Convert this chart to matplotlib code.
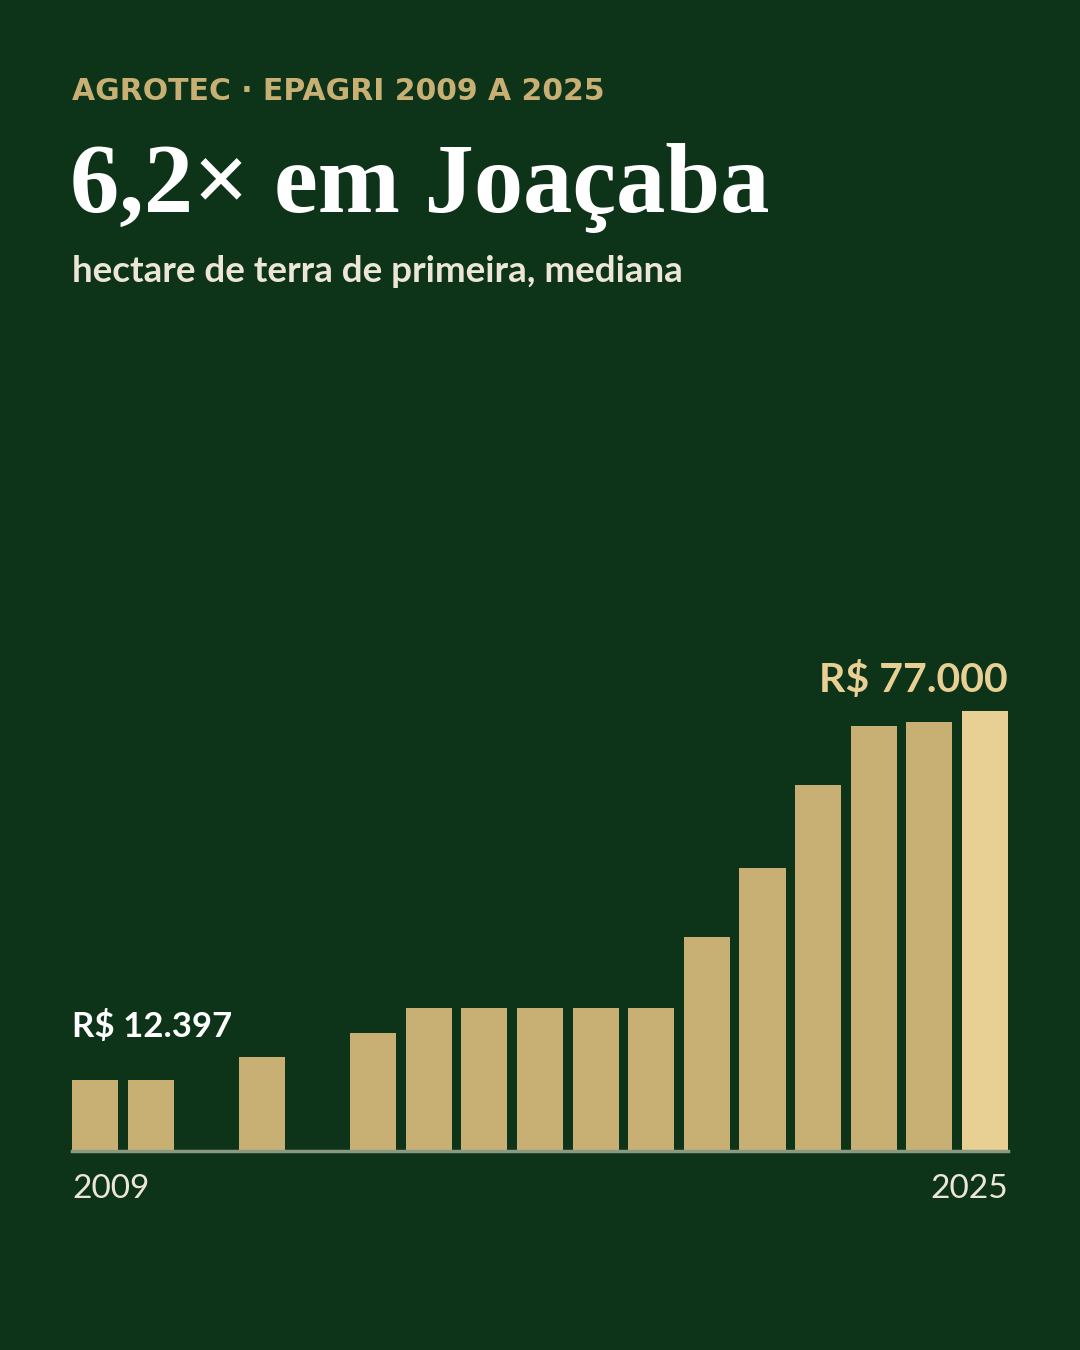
import matplotlib
matplotlib.use("Agg")
import matplotlib.pyplot as plt

# data (R$ per hectare, median)
years = [2009, 2010, 2012, 2014, 2015, 2016, 2017, 2018, 2019, 2020, 2021, 2022, 2023, 2024, 2025]
values = [12397, 12397, 16500, 20600, 25000, 25000, 25000, 25000, 25000, 37400, 49600, 64000, 74400, 75000, 77000]
first_label = "R$ 12.397"
last_label = "R$ 77.000"

BG = "#0d3319"
BAR = "#c8af74"
HIGHLIGHT = "#e8cf94"
CREAM = "#ece6d6"

W, H = 1080, 1350
fig = plt.figure(figsize=(W / 100, H / 100), dpi=100, facecolor=BG)


def fx(px):
    return px / W


def fy(py):
    return 1 - py / H


# header
fig.text(fx(72), fy(91), "AGROTEC · EPAGRI 2009 A 2025", color=BAR, fontsize=21.5,
         fontweight="bold", family="DejaVu Sans", va="center", ha="left")
fig.text(fx(70), fy(212), "6,2× em Joaçaba", color="white", fontsize=71,
         fontweight="bold", family="Liberation Serif", va="baseline", ha="left")
fig.text(fx(72), fy(282), "hectare de terra de primeira, mediana", color=CREAM, fontsize=26.5,
         family="Lato", fontweight="bold", va="baseline", ha="left")

# bar area: baseline at y=1151, 77000 reaches y=711
bw = 0.827
ax = fig.add_axes([fx(72), fy(1151), (1008 - 72) / W, 440 / H])
ax.set_facecolor(BG)
colors = [BAR] * (len(years) - 1) + [HIGHLIGHT]
ax.bar(years, values, width=bw, color=colors, align="center", zorder=2)
ax.set_xlim(years[0] - bw / 2, years[-1] + bw / 2)
ax.set_ylim(0, max(values))
ax.axhline(0, color="#8a9a80", lw=2.5, zorder=3, clip_on=False)
for s in ax.spines.values():
    s.set_visible(False)
ax.set_xticks([])
ax.set_yticks([])

# value labels
ax.annotate(first_label, xy=(years[0] - bw / 2, values[0]), xytext=(0, 43),
            textcoords="offset pixels", color="white", fontsize=25, fontweight="bold",
            family="Lato", ha="left", va="baseline", annotation_clip=False)
ax.annotate(last_label, xy=(years[-1] + bw / 2, values[-1]), xytext=(0, 19),
            textcoords="offset pixels", color=HIGHLIGHT, fontsize=29.5, fontweight="bold",
            family="Lato", ha="right", va="baseline", annotation_clip=False)

# end year labels
fig.text(fx(72), fy(1198), str(years[0]), color=CREAM, fontsize=24, family="Lato",
         ha="left", va="baseline")
fig.text(fx(1008), fy(1198), str(years[-1]), color=CREAM, fontsize=24, family="Lato",
         ha="right", va="baseline")

fig.savefig("out.png", dpi=100, facecolor=BG)
